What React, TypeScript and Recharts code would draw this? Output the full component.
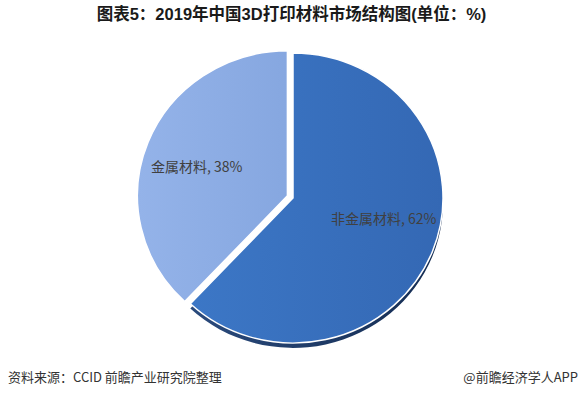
import React from 'react';
import { PieChart, Pie, Cell } from 'recharts';

// chart content
const categories = ['非金属材料', '金属材料'];
const shares = [62, 38];
const titleText = '图表5：2019年中国3D打印材料市场结构图(单位：%)';
const sourceText = '资料来源：CCID 前瞻产业研究院整理';
const brandText = '@前瞻经济学人APP';

const data = categories.map((name, i) => ({ name, value: shares[i] }));

const W = 583;
const H = 396;
const CX = 293;
const CY = 198;
const R = 150;
const SQUASH = 0.967; // slight 3D tilt: pie is a touch wider than tall
const EXPLODE = 6;
const total = shares.reduce((a, b) => a + b, 0);

// mid angle of the exploded (second) slice, recharts convention
const smallMid = 90 - (360 * (shares[0] + shares[1] / 2)) / total;
const ex = EXPLODE * Math.cos((smallMid * Math.PI) / 180);
const ey = -EXPLODE * Math.sin((smallMid * Math.PI) / 180);

const cjk = '"Noto Sans CJK SC", "Microsoft YaHei", sans-serif';

// label drawn only for the slice that is visible in a given layer
function makeLabel(showIndex: number) {
  // eslint-disable-next-line @typescript-eslint/no-explicit-any
  return (p: any) => {
    if (p.index !== showIndex) return null;
    const rad = (p.midAngle * Math.PI) / 180;
    const r = p.outerRadius * 0.65;
    const x = p.cx + r * Math.cos(rad);
    const y = p.cy - r * Math.sin(rad) * 0.72 - 4;
    return (
      <text
        x={x}
        y={y}
        dy="0.35em"
        textAnchor="middle"
        fill="#404040"
        fontSize={14}
        fontFamily={cjk}
        transform={`translate(0 ${y}) scale(1 ${1 / SQUASH}) translate(0 ${-y})`}
      >
        {`${p.name}, ${p.value}%`}
      </text>
    );
  };
}

export default function App() {
  return (
    <div
      style={{
        position: 'fixed',
        left: 0,
        top: 0,
        width: W,
        height: H,
        background: '#fff',
        overflow: 'hidden',
      }}
    >
      <div style={{ transform: `scaleY(${SQUASH})`, transformOrigin: `0 ${CY}px` }}>
        <PieChart width={W} height={H} margin={{ top: 0, right: 0, bottom: 0, left: 0 }}>
          <defs>
            <linearGradient id="gBig" x1="0" y1="0" x2="1" y2="0">
              <stop offset="0%" stopColor="#3c77c6" />
              <stop offset="100%" stopColor="#3468b4" />
            </linearGradient>
            <linearGradient id="gSmall" x1="0" y1="0" x2="1" y2="0">
              <stop offset="0%" stopColor="#94b3e9" />
              <stop offset="100%" stopColor="#86a7e0" />
            </linearGradient>
            <linearGradient id="gShadow" x1="0" y1="0" x2="1" y2="0">
              <stop offset="0%" stopColor="#2a4a7c" />
              <stop offset="100%" stopColor="#142c52" />
            </linearGradient>
          </defs>
          {/* depth / shadow layer under the big slice */}
          <Pie
            data={data}
            dataKey="value"
            cx={CX}
            cy={CY + 5}
            outerRadius={R}
            startAngle={90}
            endAngle={-270}
            stroke="none"
            isAnimationActive={false}
            label={false}
            labelLine={false}
          >
            <Cell fill="url(#gShadow)" />
            <Cell fill="none" />
          </Pie>
          {/* big slice */}
          <Pie
            data={data}
            dataKey="value"
            cx={CX}
            cy={CY}
            outerRadius={R}
            startAngle={90}
            endAngle={-270}
            isAnimationActive={false}
            label={makeLabel(0)}
            labelLine={false}
          >
            <Cell fill="url(#gBig)" stroke="#ffffff" strokeWidth={1.5} />
            <Cell fill="none" stroke="none" />
          </Pie>
          {/* exploded small slice */}
          <Pie
            data={data}
            dataKey="value"
            cx={CX + ex}
            cy={CY + ey}
            outerRadius={R}
            startAngle={90}
            endAngle={-270}
            isAnimationActive={false}
            label={makeLabel(1)}
            labelLine={false}
          >
            <Cell fill="none" stroke="none" />
            <Cell fill="url(#gSmall)" stroke="#ffffff" strokeWidth={1.5} />
          </Pie>
        </PieChart>
      </div>

      <div
        style={{
          position: 'absolute',
          left: 0,
          top: 4,
          width: W,
          textAlign: 'center',
          fontFamily: '"Liberation Sans", ' + cjk,
          fontWeight: 'bold',
          fontSize: 16.5,
          lineHeight: '20px',
          color: '#1a1a1a',
        }}
      >
        {titleText}
      </div>
      <div
        style={{
          position: 'absolute',
          left: 8,
          top: 368,
          fontFamily: cjk,
          fontSize: 13,
          lineHeight: '18px',
          color: '#333',
        }}
      >
        {sourceText}
      </div>
      <div
        style={{
          position: 'absolute',
          right: 5,
          top: 368,
          fontFamily: cjk,
          fontSize: 13,
          lineHeight: '18px',
          color: '#333',
        }}
      >
        {brandText}
      </div>
    </div>
  );
}
